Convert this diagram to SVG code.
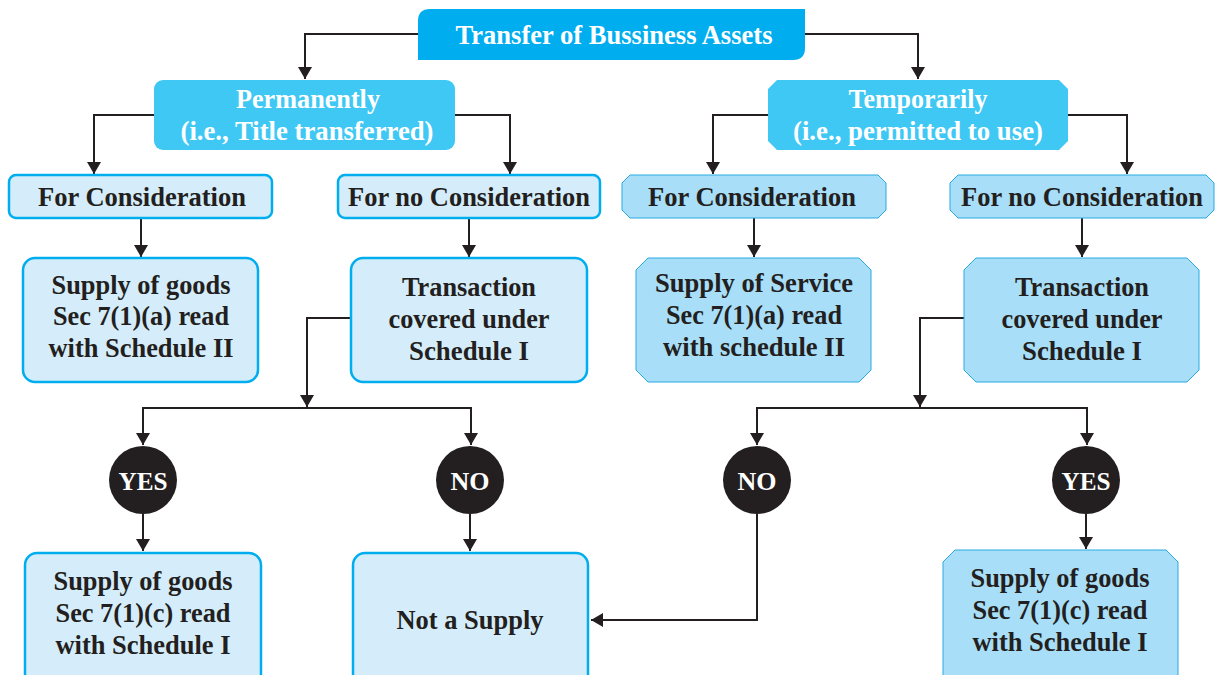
<svg xmlns="http://www.w3.org/2000/svg" width="1216" height="675" viewBox="0 0 1216 675">
<defs>
<marker id="arr" markerUnits="userSpaceOnUse" markerWidth="12" markerHeight="14" viewBox="0 0 12 14" refX="12" refY="7" orient="auto">
<path d="M0,0 L12,7 L0,14 Z" fill="#231F20"/>
</marker>
</defs>
<style>
.t{font-family:"Liberation Serif","Times New Roman",serif;font-weight:bold;font-size:28px;text-anchor:middle;fill:#231F20}
.w{fill:#FFFFFF}
.s{font-size:26px}
.lb{fill:#D5EDFA;stroke:#00AEEF;stroke-width:2.5}
.oc{fill:#A8DEF8;stroke:#29ABE2;stroke-width:1}
.c{fill:none;stroke:#231F20;stroke-width:2}
.dot{fill:#231F20}
</style>
<g id="connectors">
<path class="c" d="M418,34 H305 V79" marker-end="url(#arr)"/>
<path class="c" d="M805,34 H918 V79" marker-end="url(#arr)"/>
<path class="c" d="M154,115 H94 V174" marker-end="url(#arr)"/>
<path class="c" d="M455,115 H510 V174" marker-end="url(#arr)"/>
<path class="c" d="M768,115 H713 V174" marker-end="url(#arr)"/>
<path class="c" d="M1068,115 H1127 V174" marker-end="url(#arr)"/>
<path class="c" d="M141,218 V257" marker-end="url(#arr)"/>
<path class="c" d="M469,218 V257" marker-end="url(#arr)"/>
<path class="c" d="M754,218 V257" marker-end="url(#arr)"/>
<path class="c" d="M1082,218 V257" marker-end="url(#arr)"/>
<path class="c" d="M351,318 H307 V407" marker-end="url(#arr)"/>
<path class="c" d="M307,408 H143 V445" marker-end="url(#arr)"/>
<path class="c" d="M307,408 H471 V445" marker-end="url(#arr)"/>
<path class="c" d="M964,318 H920 V407" marker-end="url(#arr)"/>
<path class="c" d="M920,408 H757 V445" marker-end="url(#arr)"/>
<path class="c" d="M920,408 H1087 V445" marker-end="url(#arr)"/>
<path class="c" d="M143,514 V551" marker-end="url(#arr)"/>
<path class="c" d="M470,514 V551" marker-end="url(#arr)"/>
<path class="c" d="M757,514 V620 H591" marker-end="url(#arr)"/>
<path class="c" d="M1086,514 V549" marker-end="url(#arr)"/>
</g>
<g id="n-root">
<path d="M430,9 H805 V48 Q805,60 793,60 H418 V21 Q418,9 430,9 Z" fill="#00AEEF"/>
<text class="t w" x="614" y="44" textLength="317" lengthAdjust="spacingAndGlyphs">Transfer of Bussiness Assets</text>
</g>
<g id="n-perm">
<rect x="154" y="80" width="301" height="70" rx="9" fill="#40C8F4"/>
<text class="t w" x="308" y="108" textLength="144" lengthAdjust="spacingAndGlyphs">Permanently</text>
<text class="t w" x="307" y="140" textLength="253" lengthAdjust="spacingAndGlyphs">(i.e., Title transferred)</text>
</g>
<g id="n-temp">
<polygon points="777,80 1059,80 1068,89 1068,141 1059,150 777,150 768,141 768,89" fill="#40C8F4"/>
<text class="t w" x="918" y="108" textLength="139" lengthAdjust="spacingAndGlyphs">Temporarily</text>
<text class="t w" x="918" y="140" textLength="250" lengthAdjust="spacingAndGlyphs">(i.e., permitted to use)</text>
</g>
<g id="n-pc">
<rect class="lb" x="9" y="175" width="263" height="43" rx="7"/>
<text class="t" x="142" y="206" textLength="208" lengthAdjust="spacingAndGlyphs">For Consideration</text>
</g>
<g id="n-pnc">
<rect class="lb" x="338" y="175" width="262" height="43" rx="7"/>
<text class="t" x="469" y="206" textLength="242" lengthAdjust="spacingAndGlyphs">For no Consideration</text>
</g>
<g id="n-tc">
<polygon class="oc" points="630,175 878,175 886,183 886,210 878,218 630,218 622,210 622,183"/>
<text class="t" x="752" y="206" textLength="208" lengthAdjust="spacingAndGlyphs">For Consideration</text>
</g>
<g id="n-tnc">
<polygon class="oc" points="958,175 1206,175 1214,183 1214,210 1206,218 958,218 950,210 950,183"/>
<text class="t" x="1082" y="206" textLength="242" lengthAdjust="spacingAndGlyphs">For no Consideration</text>
</g>
<g id="n-sg1">
<rect class="lb" x="23" y="258" width="235" height="124" rx="12"/>
<text class="t" x="141" y="294" textLength="179" lengthAdjust="spacingAndGlyphs">Supply of goods</text>
<text class="t" x="141" y="325" textLength="176" lengthAdjust="spacingAndGlyphs">Sec 7(1)(a) read</text>
<text class="t" x="141" y="357" textLength="185" lengthAdjust="spacingAndGlyphs">with Schedule II</text>
</g>
<g id="n-tr1">
<rect class="lb" x="351" y="258" width="236" height="124" rx="12"/>
<text class="t" x="469" y="296" textLength="134" lengthAdjust="spacingAndGlyphs">Transaction</text>
<text class="t" x="469" y="328" textLength="161" lengthAdjust="spacingAndGlyphs">covered under</text>
<text class="t" x="469" y="360" textLength="120" lengthAdjust="spacingAndGlyphs">Schedule I</text>
</g>
<g id="n-ss">
<polygon class="oc" points="648,258 859,258 871,270 871,370 859,382 648,382 636,370 636,270"/>
<text class="t" x="754" y="292" textLength="198" lengthAdjust="spacingAndGlyphs">Supply of Service</text>
<text class="t" x="754" y="324" textLength="176" lengthAdjust="spacingAndGlyphs">Sec 7(1)(a) read</text>
<text class="t" x="754" y="356" textLength="182" lengthAdjust="spacingAndGlyphs">with schedule II</text>
</g>
<g id="n-tr2">
<polygon class="oc" points="976,258 1187,258 1199,270 1199,370 1187,382 976,382 964,370 964,270"/>
<text class="t" x="1082" y="296" textLength="134" lengthAdjust="spacingAndGlyphs">Transaction</text>
<text class="t" x="1082" y="328" textLength="161" lengthAdjust="spacingAndGlyphs">covered under</text>
<text class="t" x="1082" y="360" textLength="120" lengthAdjust="spacingAndGlyphs">Schedule I</text>
</g>
<g id="n-yes1">
<circle class="dot" cx="143" cy="480" r="34"/>
<text class="t w s" x="143" y="490" textLength="49" lengthAdjust="spacingAndGlyphs">YES</text>
</g>
<g id="n-no1">
<circle class="dot" cx="470" cy="480" r="34"/>
<text class="t w s" x="470" y="490" textLength="39" lengthAdjust="spacingAndGlyphs">NO</text>
</g>
<g id="n-no2">
<circle class="dot" cx="757" cy="480" r="34"/>
<text class="t w s" x="757" y="490" textLength="39" lengthAdjust="spacingAndGlyphs">NO</text>
</g>
<g id="n-yes2">
<circle class="dot" cx="1086" cy="480" r="34"/>
<text class="t w s" x="1086" y="490" textLength="49" lengthAdjust="spacingAndGlyphs">YES</text>
</g>
<g id="n-sg2">
<rect class="lb" x="25" y="553" width="236" height="135" rx="12"/>
<text class="t" x="143" y="590" textLength="179" lengthAdjust="spacingAndGlyphs">Supply of goods</text>
<text class="t" x="143" y="622" textLength="175" lengthAdjust="spacingAndGlyphs">Sec 7(1)(c) read</text>
<text class="t" x="143" y="654" textLength="175" lengthAdjust="spacingAndGlyphs">with Schedule I</text>
</g>
<g id="n-nas">
<rect class="lb" x="353" y="553" width="235" height="135" rx="12"/>
<text class="t" x="470" y="629" textLength="147" lengthAdjust="spacingAndGlyphs">Not a Supply</text>
</g>
<g id="n-sg3">
<polygon class="oc" points="955,550 1166,550 1178,562 1178,680 943,680 943,562"/>
<text class="t" x="1060" y="587" textLength="179" lengthAdjust="spacingAndGlyphs">Supply of goods</text>
<text class="t" x="1060" y="619" textLength="175" lengthAdjust="spacingAndGlyphs">Sec 7(1)(c) read</text>
<text class="t" x="1060" y="651" textLength="175" lengthAdjust="spacingAndGlyphs">with Schedule I</text>
</g>
</svg>
